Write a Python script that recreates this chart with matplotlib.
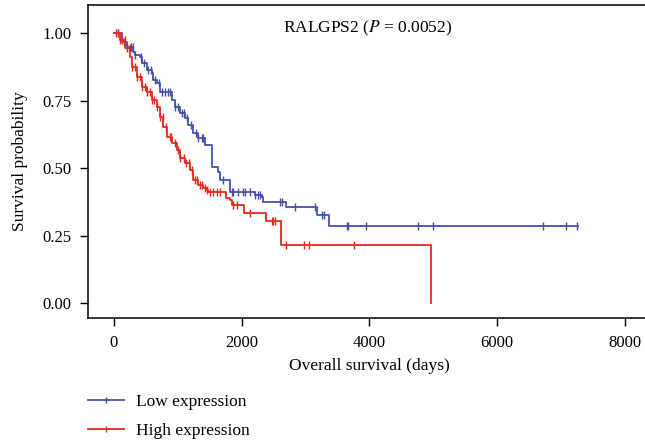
import numpy as np
import matplotlib.pyplot as plt
from matplotlib.lines import Line2D

plt.rcParams['font.family'] = ['Liberation Serif', 'DejaVu Serif']
plt.rcParams['mathtext.fontset'] = 'stix'

# Kaplan-Meier step knots (days, survival)
low_time = [0, 121, 199, 302, 329, 407, 434, 512, 590, 615, 669, 720, 904, 955,
            1034, 1112, 1164, 1242, 1320, 1425, 1530, 1633, 1660, 1817, 2208,
            2313, 2338, 2693, 3174, 3371]
low_surv = [1.0, 0.969, 0.950, 0.932, 0.920, 0.913, 0.889, 0.864, 0.852, 0.827,
            0.815, 0.784, 0.753, 0.728, 0.704, 0.685, 0.661, 0.630, 0.611, 0.587,
            0.506, 0.488, 0.457, 0.414, 0.401, 0.395, 0.377, 0.356, 0.328, 0.288]
low_end = 7260
low_censor = [60, 150, 200, 260, 300, 330, 420, 470, 540, 580, 640, 700, 760, 800,
              850, 880, 960, 1000, 1060, 1100, 1150, 1200, 1280, 1320, 1380, 1400,
              1702, 1843, 1868, 1947, 2025, 2051, 2130, 2208, 2260, 2286, 2600,
              2626, 2835, 3148, 3253, 3289, 3644, 3665, 3941, 4766, 4995, 6724,
              7074, 7246]

high_time = [0, 94, 172, 251, 277, 355, 434, 512, 590, 669, 720, 772, 825, 904,
             982, 1034, 1112, 1190, 1242, 1320, 1398, 1452, 1477, 1754, 1817,
             1843, 2036, 2380, 2610, 4964]
high_surv = [1.0, 0.975, 0.944, 0.913, 0.876, 0.839, 0.802, 0.784, 0.753, 0.728,
             0.691, 0.654, 0.617, 0.593, 0.568, 0.537, 0.519, 0.494, 0.457, 0.439,
             0.426, 0.420, 0.414, 0.389, 0.383, 0.365, 0.336, 0.306, 0.218, 0.0]
high_end = 4964
high_censor = [30, 60, 100, 130, 170, 200, 250, 290, 330, 360, 400, 440, 480, 520,
               560, 600, 630, 680, 720, 770, 820, 870, 900, 960, 1000, 1040, 1100,
               1130, 1170, 1220, 1270, 1300, 1350, 1373, 1425, 1452, 1503, 1555,
               1608, 1660, 1868, 1921, 2130, 2470, 2495, 2521, 2694, 2976, 3054,
               3758]

LOW_C = '#4450a8'
HIGH_C = '#e8281e'


def surv_at(times, surv, t):
    idx = np.searchsorted(times, t, side='right') - 1
    return np.asarray(surv)[idx]


fig = plt.figure(figsize=(6.45, 4.45), dpi=100)
ax = fig.add_axes([0.1364, 0.2854, 0.8713, 0.7034])

for times, surv, end, cens, col in [
        (low_time, low_surv, low_end, low_censor, LOW_C),
        (high_time, high_surv, high_end, high_censor, HIGH_C)]:
    t = list(times) + [end]
    s = list(surv) + [surv[-1]]
    ax.step(t, s, where='post', color=col, lw=1.3)
    ax.plot(cens, surv_at(times, surv, cens), ls='none', marker='|',
            ms=6, mew=1.0, color=col)

ax.set_xlim(-407, 8394)
ax.set_ylim(-0.0537, 1.105)
ax.set_xticks([0, 2000, 4000, 6000, 8000])
ax.set_yticks([0, 0.25, 0.5, 0.75, 1.0])
ax.set_yticklabels(['0.00', '0.25', '0.50', '0.75', '1.00'])
ax.tick_params(labelsize=12, length=6, width=1, pad=6)
for sp in ax.spines.values():
    sp.set_linewidth(1.1)
ax.set_xlabel('Overall survival (days)', fontsize=12.5, labelpad=5)
ax.set_ylabel('Survival probability', fontsize=12.5, labelpad=10)

ax.text(3978, 1.02, r'RALGPS2 ($\mathit{P}$ = 0.0052)', fontsize=12.5,
        ha='center', va='center')

handles = [Line2D([], [], color=LOW_C, lw=1.3, marker='|', ms=5),
           Line2D([], [], color=HIGH_C, lw=1.3, marker='|', ms=5)]
fig.legend(handles, ['Low expression', 'High expression'], loc='upper left',
           bbox_to_anchor=(88 / 645, 1 - 394 / 445), frameon=False,
           fontsize=12.5, handlelength=2.1, handletextpad=0.65,
           labelspacing=0.74, borderpad=0, borderaxespad=0, numpoints=1)

fig.savefig('out.png', dpi=100)
